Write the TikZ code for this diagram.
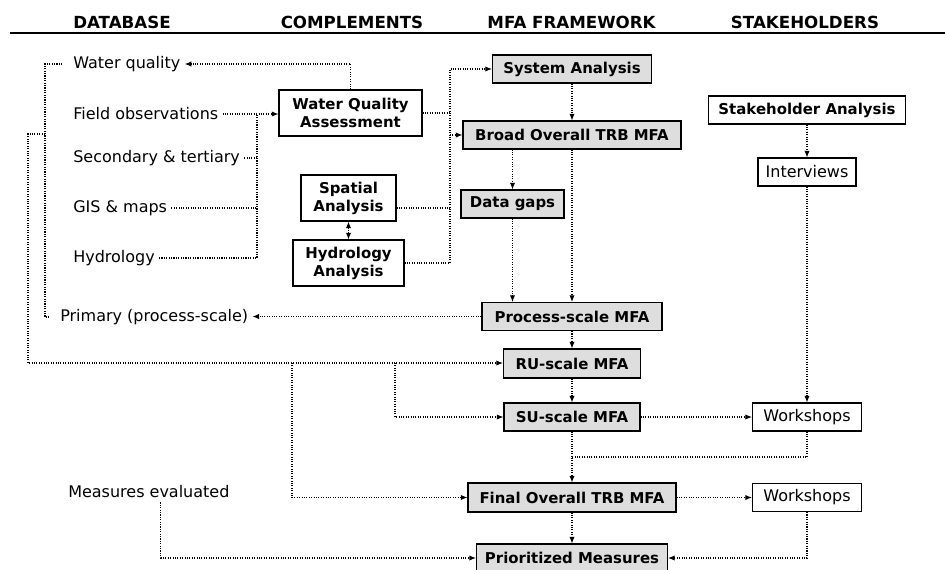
\documentclass[tikz,border=0pt]{standalone}
\usepackage{fontspec}
\setmainfont{DejaVu Sans}
\usetikzlibrary{arrows.meta}
\tikzset{
  stage/.style={draw, line width=0.8pt, fill=black!13, inner sep=0pt, minimum height=21pt, align=center, font=\bfseries\fontsize{11.2}{13.5}\selectfont},
  comp/.style={stage, fill=white, minimum height=34.5pt},
  talk/.style={draw, line width=0.8pt, inner sep=0pt, minimum height=21pt, font=\fontsize{12}{14}\selectfont},
  data/.style={anchor=west, inner sep=3pt, font=\fontsize{12}{14}\selectfont},
  head/.style={font=\bfseries\fontsize{12.5}{14}\selectfont},
  link/.style={densely dotted, line width=0.8pt},
}
\begin{document}
\begin{tikzpicture}[x=0.75pt, y=-0.75pt, >={Latex[length=5pt,width=4pt]}]
        \useasboundingbox (0,0) rectangle (945,569);
        % Headers
        \node[head] (hdb) at (122,22) {DATABASE};
        \node[head] (hcomp) at (352,22) {COMPLEMENTS};
        \node[head] (hmfa) at (571.5,22) {MFA FRAMEWORK};
        \node[head] (hstake) at (805,22) {STAKEHOLDERS};
        \draw[line width=0.8pt] (10,33) -- (945,33);
        % Database
        \node[data] (wq) at (69,64) {Water quality};
        \node[data] (fo) at (69,114) {Field observations};
        \node[data] (sec) at (69,158) {Secondary \& tertiary};
        \node[data] (gis) at (69,208) {GIS \& maps};
        \node[data] (hyd) at (69,258) {Hydrology};
        \node[data] (prim) at (56,317) {Primary (process-scale)};
        \node[data] (meas) at (64,492) {Measures evaluated};
        % Complements
        \node[comp, minimum width=107.25pt] (wqa) at (350.5,113) {Water Quality\\Assessment};
        \node[comp, minimum width=71.25pt] (spat) at (348.5,198) {Spatial\\Analysis};
        \node[comp, minimum width=83.25pt] (hydan) at (348.5,263) {Hydrology\\Analysis};
        % MFA framework
        \node[stage, minimum width=119.25pt] (sys) at (572,69) {System Analysis};
        \node[stage, minimum width=163.5pt] (broad) at (572,135) {Broad Overall TRB MFA};
        \node[stage, minimum width=77.25pt] (gaps) at (512.5,204) {Data gaps};
        \node[stage, minimum width=135pt] (proc) at (572,316.5) {Process-scale MFA};
        \node[stage, minimum width=102.75pt, minimum height=21.75pt] (ru) at (572,363.5) {RU-scale MFA};
        \node[stage, minimum width=102pt] (su) at (572,417) {SU-scale MFA};
        \node[stage, minimum width=156pt, minimum height=21.75pt] (final) at (572,497.5) {Final Overall TRB MFA};
        \node[stage, minimum width=143.25pt] (prio) at (572,558) {Prioritized Measures};
        % Stakeholders
        \node[stage, fill=white, minimum width=147.75pt] (stake) at (807,110) {Stakeholder Analysis};
        \node[talk, minimum width=73.5pt] (interv) at (807,172) {Interviews};
        \node[talk, minimum width=81.75pt] (ws1) at (807,417) {Workshops};
        \node[talk, minimum width=81.75pt] (ws2) at (807,497.5) {Workshops};
        % Bends
        \coordinate (dbx) at (257,114);
        \coordinate (wqx) at (45,64);
        \coordinate (tap) at (45,134);
        \coordinate (lowx) at (28,363);
        \coordinate (br1) at (292,363);
        \coordinate (br2) at (395,363);
        \coordinate (cx) at (450,115);
        \coordinate (wsx) at (807,457);
        % Database to complements
        \draw[link,->] (fo.east) -- (fo.east -| wqa.west);
        \draw[link] (sec.east) -- (sec.east -| dbx);
        \draw[link] (gis.east) -- (gis.east -| dbx);
        \draw[link] (hyd.east) -| (dbx);
        \draw[link,->] (wqa.north) |- (wq.east);
        \draw[link] ([xshift=-5pt]wq.west) -- (wqx) -- (wqx |- prim) -- ([xshift=-5pt]prim.west);
        % Data to the scaled MFAs
        \draw[link,->] (tap) -- (tap -| lowx) -- (lowx) -- (lowx -| ru.west);
        \draw[link,->] (br1) |- (final.west);
        \draw[link,->] (br2) |- (su.west);
        % Complements to the MFA
        \draw[link] (wqa.east) -- (wqa.east -| cx);
        \draw[link,->] (hydan.east) -| (cx) |- (sys.west);
        \draw[link,->] (broad.west -| cx) -- (broad.west);
        \draw[link] (spat.east |- gis.east) -- (cx |- gis.east);
        \draw[link,<->] (spat.south) -- (hydan.north);
        % MFA chain
        \draw[link,->] (sys) -- (broad);
        \draw[link,->] (broad.south -| gaps) -- (gaps.north);
        \draw[link,->] (gaps.south) -- (gaps.south |- proc.north);
        \draw[link,->] (broad) -- (proc);
        \draw[link,->] (proc.west) -- (proc.west -| prim.east);
        \draw[link,->] (proc) -- (ru);
        \draw[link,->] (ru) -- (su);
        \draw[link,->] (su) -- (final);
        \draw[link,->] (final) -- (prio);
        % Stakeholders
        \draw[link,->] (stake) -- (interv);
        \draw[link,->] (interv) -- (ws1);
        \draw[link,->] (su) -- (ws1);
        \draw[link] (ws1) -- (wsx) -- (wsx -| final);
        \draw[link,->] (final) -- (ws2);
        \draw[link,->] (ws2.south) |- (prio.east);
        \draw[link,->] ([xshift=9pt]meas.south) |- (prio.west);
\end{tikzpicture}
\end{document}
